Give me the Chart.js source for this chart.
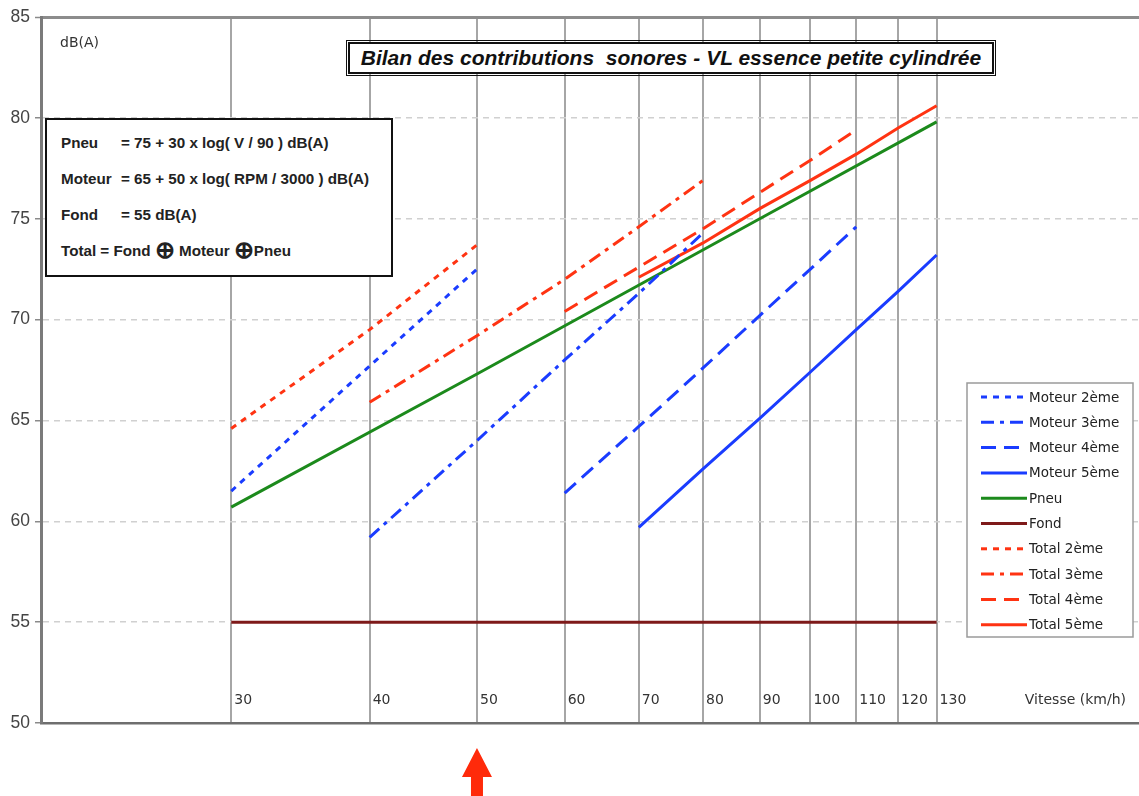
<!DOCTYPE html>
<html>
<head>
<meta charset="utf-8">
<script src="https://cdn.jsdelivr.net/npm/chart.js@4/dist/chart.umd.min.js"></script>
<style>
  html, body { margin: 0; padding: 0; background: #fff; }
  #wrap { position: relative; width: 1139px; height: 796px; overflow: hidden; font-family: "Liberation Sans", Arial, sans-serif; }
  canvas { position: absolute; left: 0; top: 0; }
  #title {
    position: absolute; left: 348px; top: 42px; width: 642px; height: 28px;
    border: 2px solid #111; outline: 1px solid #111; outline-offset: 1px;
    background: #fff; font-weight: bold; font-style: italic; font-size: 21px;
    line-height: 28px; text-align: center; color: #111; white-space: pre;
  }
  #formula {
    position: absolute; left: 45px; top: 118px; width: 344px; height: 155px;
    border: 2px solid #111; background: #fff; font-weight: bold; font-size: 15.2px; color: #222;
  }
  #formula .row { position: absolute; left: 14px; white-space: pre; height: 22px; line-height: 22px; }
  #formula .lab { display: inline-block; width: 60px; }
  #formula .op { font-size: 24px; vertical-align: -2px; font-weight: bold; line-height: 20px; }
</style>
</head>
<body>
<div id="wrap">
  <canvas id="c" width="1139" height="796"></canvas>
  <div id="title">Bilan des contributions  sonores - VL essence petite cylindrée</div>
  <div id="formula">
    <div class="row" style="top:12px"><span class="lab">Pneu</span>= 75 + 30 x log( V / 90 ) dB(A)</div>
    <div class="row" style="top:48px"><span class="lab">Moteur</span>= 65 + 50 x log( RPM / 3000 ) dB(A)</div>
    <div class="row" style="top:84px"><span class="lab">Fond</span>= 55 dB(A)</div>
    <div class="row" style="top:120px">Total = Fond <span class="op">⊕</span> Moteur <span class="op">⊕</span>Pneu</div>
  </div>
</div>
<script>
// ---- data ----
const xTickValues = [30, 40, 50, 60, 70, 80, 90, 100, 110, 120, 130];
const xTickLabels = ['30', '40', '50', '60', '70', '80', '90', '100', '110', '120', '130'];
const yTickValues = [50, 55, 60, 65, 70, 75, 80, 85];

const moteur2V = [30, 40, 50];
const moteur2 = [61.5, 67.7, 72.5];
const moteur3V = [40, 50, 60, 70, 80];
const moteur3 = [59.2, 64.0, 68.0, 71.3, 74.3];
const moteur4V = [60, 70, 80, 90, 100, 110];
const moteur4 = [61.4, 64.7, 67.6, 70.2, 72.5, 74.6];
const moteur5V = [70, 80, 90, 100, 110, 120, 130];
const moteur5 = [59.7, 62.6, 65.1, 67.4, 69.5, 71.4, 73.2];
const pneuV = [30, 50, 90, 130];
const pneu = [60.7, 67.3, 75.0, 79.8];
const fondV = [30, 130];
const fond = [55, 55];
const total2V = [30, 40, 50];
const total2 = [64.6, 69.5, 73.7];
const total3V = [40, 50, 60, 70, 80];
const total3 = [65.9, 69.2, 72.0, 74.6, 76.9];
const total4V = [60, 70, 80, 90, 100, 110];
const total4 = [70.4, 72.6, 74.5, 76.3, 77.9, 79.4];
const total5V = [70, 80, 90, 100, 110, 120, 130];
const total5 = [72.1, 73.8, 75.5, 76.9, 78.2, 79.5, 80.6];

const BLUE = '#1a3cff', RED = '#ff3312', GREEN = '#1c8a1c', BROWN = '#7e1a1a';
const DASH_SHORT = [6, 6], DASH_DOT = [13, 6, 4, 6], DASH_LONG = [15, 8];

function pts(xs, ys) { return xs.map((x, i) => ({ x: x, y: ys[i] })); }
function ds(label, xs, ys, color, dash) {
  return { label: label, data: pts(xs, ys), borderColor: color, backgroundColor: color,
           borderDash: dash, borderWidth: 3, pointRadius: 0, fill: false, tension: 0 };
}

const datasets = [
  ds('Moteur 2ème', moteur2V, moteur2, BLUE, DASH_SHORT),
  ds('Moteur 3ème', moteur3V, moteur3, BLUE, DASH_DOT),
  ds('Moteur 4ème', moteur4V, moteur4, BLUE, DASH_LONG),
  ds('Moteur 5ème', moteur5V, moteur5, BLUE, []),
  ds('Pneu', pneuV, pneu, GREEN, []),
  ds('Fond', fondV, fond, BROWN, []),
  ds('Total 2ème', total2V, total2, RED, DASH_SHORT),
  ds('Total 3ème', total3V, total3, RED, DASH_DOT),
  ds('Total 4ème', total4V, total4, RED, DASH_LONG),
  ds('Total 5ème', total5V, total5, RED, [])
];

const FONT = '"Liberation Sans", Arial, sans-serif';
const WIDE = '"DejaVu Sans", "Liberation Sans", Arial, sans-serif';

const decorPlugin = {
  id: 'decor',
  afterDraw(chart) {
    const c = chart.ctx, xs = chart.scales.x, ys = chart.scales.y, area = chart.chartArea;
    c.save();
    // x tick labels inside the plot
    c.fillStyle = '#333';
    c.font = '14px ' + WIDE;
    c.textBaseline = 'middle';
    c.textAlign = 'left';
    const labY = ys.getPixelForValue(51.1);
    xTickValues.forEach((v, i) => {
      c.fillText(xTickLabels[i], xs.getPixelForValue(v) + 3, labY);
    });
    c.textAlign = 'right';
    c.fillText('Vitesse (km/h)', area.right - 13, labY);
    // y unit
    c.textAlign = 'left';
    c.font = '14px ' + WIDE;
    c.fillText('dB(A)', area.left + 19, ys.getPixelForValue(83.7));

    // legend
    const lx = 967, ly = 383, lw = 166, lh = 254, rowH = 25.3;
    c.fillStyle = '#fff';
    c.fillRect(lx, ly, lw, lh);
    c.strokeStyle = '#9a9a9a';
    c.lineWidth = 1.5;
    c.strokeRect(lx, ly, lw, lh);
    c.font = '13.5px ' + WIDE;
    c.textAlign = 'left';
    c.textBaseline = 'middle';
    chart.data.datasets.forEach((d, i) => {
      const y = ly + 14 + i * rowH;
      c.save();
      c.strokeStyle = d.borderColor;
      c.lineWidth = 3;
      c.setLineDash(d.borderDash && d.borderDash.length ? d.borderDash : []);
      c.beginPath();
      c.moveTo(981, y);
      c.lineTo(1027, y);
      c.stroke();
      c.restore();
      c.fillStyle = '#222';
      c.fillText(d.label, 1029, y + 1);
    });

    // red arrow pointing at 50 km/h
    const ax = xs.getPixelForValue(50);
    c.fillStyle = '#ff2a0a';
    c.beginPath();
    c.moveTo(ax, 748);
    c.lineTo(ax + 15, 777);
    c.lineTo(ax + 6, 777);
    c.lineTo(ax + 6, 800);
    c.lineTo(ax - 6, 800);
    c.lineTo(ax - 6, 777);
    c.lineTo(ax - 15, 777);
    c.closePath();
    c.fill();
    c.restore();
  }
};

new Chart(document.getElementById('c'), {
  type: 'line',
  data: { datasets: datasets },
  plugins: [decorPlugin],
  options: {
    responsive: false,
    animation: false,
    devicePixelRatio: 1,
    layout: { padding: { left: 0, right: 0, top: 17, bottom: 73 } },
    plugins: { legend: { display: false }, tooltip: { enabled: false }, title: { display: false } },
    elements: { point: { radius: 0 }, line: { tension: 0 } },
    scales: {
      x: {
        type: 'logarithmic',
        min: 20.2,
        max: 198,
        afterBuildTicks: s => { s.ticks = xTickValues.map(v => ({ value: v })); },
        afterFit: s => { s.height = 0; },
        ticks: { display: false },
        grid: { color: '#a6a6a6', lineWidth: 2, drawTicks: false },
        border: { display: true, color: '#6e6e6e', width: 2.5 }
      },
      y: {
        type: 'linear',
        min: 50,
        max: 85,
        afterBuildTicks: s => { s.ticks = yTickValues.map(v => ({ value: v })); },
        afterFit: s => { s.width = 41; },
        ticks: { color: '#444', font: { size: 17.5, family: FONT }, padding: 5 },
        grid: {
          color: c => (c.tick && c.tick.value === 85) ? '#8c8c8c' : '#d0d0d0',
          lineWidth: c => (c.tick && c.tick.value === 85) ? 3 : 1.5,
          tickLength: 6,
          tickColor: '#8a8a8a',
          tickWidth: 1.5,
          tickBorderDash: []
        },
        border: {
          display: true, color: '#7a7a7a', width: 3,
          dash: c => (c.tick && c.tick.value !== 85) ? [6, 5] : []
        }
      }
    }
  }
});
</script>
</body>
</html>
